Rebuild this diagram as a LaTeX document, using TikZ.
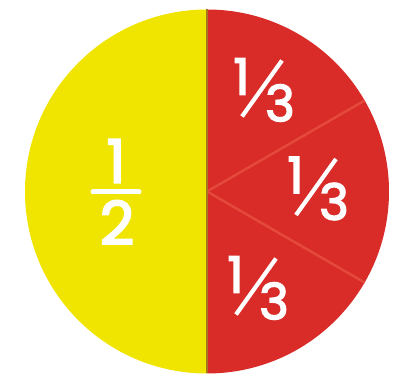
\documentclass[tikz,border=0pt]{standalone}
\usepackage{fontspec}
\setmainfont{Poppins}
\newfontfamily\fracfont{Poppins}[FakeBold=3]
\definecolor{pieyellow}{HTML}{F0E500}
\definecolor{piered}{HTML}{D92B27}
\definecolor{cutline}{HTML}{E4493B}
\definecolor{midline}{HTML}{A8741C}
\begin{document}
\begin{tikzpicture}[x=1pt, y=1pt, every node/.style={inner sep=0pt, text=white, font=\fracfont\fontsize{50}{50}\selectfont}]
  \useasboundingbox (0,0) rectangle (394,382);
  \fill[pieyellow] (207,8.5) arc (-90:-270:182) -- cycle;
  \fill[piered] (207,372.5) arc (90:-90:182) -- cycle;
  \draw[cutline, line width=2.5] (207,190.5) -- +(30:182);
  \draw[cutline, line width=2.5] (207,190.5) -- +(-30:182);
  \draw[midline, line width=2] (207,8.5) -- (207,372.5);
  % thirds
  \foreach \cx/\cy [count=\i] in {263/293.5, 317/195, 257/95.5} {
    \node (num\i) at (\cx-21.5,\cy+12) {1};
    \node (den\i) at (\cx+17,\cy-14.5) {3};
    \draw[white, line width=4.2] (\cx-21,\cy-28) -- (\cx+19,\cy+28);
  }
  % half
  \node[font=\fracfont\fontsize{60}{60}\selectfont] (halfnum) at (116,221) {1};
  \draw[white, line width=5, line cap=round] (93,190) -- (139,190);
  \node[font=\fracfont\fontsize{60}{60}\selectfont] (halfden) at (117,159.5) {2};
\end{tikzpicture}
\end{document}
